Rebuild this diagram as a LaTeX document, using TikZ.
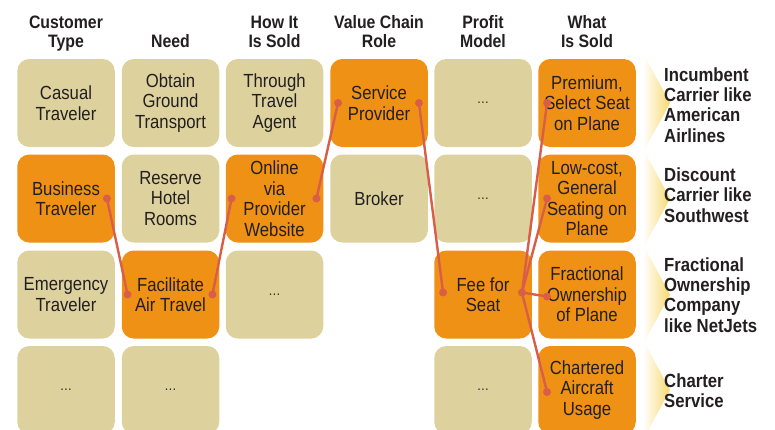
\documentclass[tikz,border=0pt]{standalone}
\usepackage{fontspec}
\setmainfont{Liberation Sans}[FakeStretch=0.88]
\definecolor{tanfill}{RGB}{221,210,158}
\definecolor{hotfill}{RGB}{239,145,20}
\definecolor{ink}{RGB}{35,31,32}
\definecolor{linkred}{RGB}{216,94,74}
\definecolor{chevyellow}{RGB}{247,217,110}
\newcommand\tilefont{\fontsize{19}{20.5}\selectfont}
\newcommand\headfont{\fontsize{18}{19.5}\selectfont\bfseries}
\newcommand\sidefont{\fontsize{19}{20.3}\selectfont\bfseries}
\newcommand\moredots{{\fontsize{14}{14}\selectfont\ldots}}
\begin{document}
\begin{tikzpicture}[x=1pt,y=-1pt,
    tile/.style={rounded corners=12pt, minimum width=97.5pt, minimum height=88pt,
      inner sep=0pt, align=center, font=\tilefont, text=ink},
    tan/.style={tile, fill=tanfill},
    hot/.style={tile, fill=hotfill},
    head/.style={font=\headfont, text=ink, align=center, anchor=south,
      inner sep=0pt, execute at end node=\strut},
    side/.style={font=\sidefont, text=ink, align=left, anchor=west, inner sep=0pt},
    link/.style={draw=linkred, line width=2.4pt},
    chevron/.style={left color=white, right color=chevyellow}]
    \useasboundingbox (0,0) rectangle (775,429);

    % chevrons behind the row labels
    \foreach \y in {103,198.5,294.5,390}
        \shade[chevron] (643,\y-50) -- (670,\y) -- (643,\y+50) -- cycle;

    % column heads
    \node[head] (h-cust) at (66,54) {Customer\\Type};
    \node[head] (h-need) at (170.5,54) {Need};
    \node[head] (h-how) at (274.5,54) {How It\\Is Sold};
    \node[head] (h-role) at (379,54) {Value Chain\\Role};
    \node[head] (h-prof) at (483,54) {Profit\\Model};
    \node[head] (h-what) at (587,54) {What\\Is Sold};

    % customer type
    \node[tan] (casual) at (66,103) {Casual\\Traveler};
    \node[hot] (business) at (66,198.5) {Business\\Traveler};
    \node[tan] (emergency) at (66,294.5) {Emergency\\Traveler};
    \node[tan] (cust-more) at (66,390) {\moredots};

    % need
    \node[tan] (ground) at (170.5,103) {Obtain\\Ground\\Transport};
    \node[tan] (hotel) at (170.5,198.5) {Reserve\\Hotel\\Rooms};
    \node[hot] (airtravel) at (170.5,294.5) {Facilitate\\Air Travel};
    \node[tan] (need-more) at (170.5,390) {\moredots};

    % how it is sold
    \node[tan] (agent) at (274.5,103) {Through\\Travel\\Agent};
    \node[hot] (online) at (274.5,198.5) {Online\\via\\Provider\\Website};
    \node[tan] (how-more) at (274.5,294.5) {\moredots};

    % value chain role
    \node[hot] (service) at (379,103) {Service\\Provider};
    \node[tan] (broker) at (379,198.5) {Broker};

    % profit model
    \node[tan] (prof-more1) at (483,103) {\moredots};
    \node[tan] (prof-more2) at (483,198.5) {\moredots};
    \node[hot] (fee) at (483,294.5) {Fee for\\Seat};
    \node[tan] (prof-more3) at (483,390) {\moredots};

    % what is sold
    \node[hot] (premium) at (587,103) {Premium,\\Select Seat\\on Plane};
    \node[hot] (lowcost) at (587,198.5) {Low-cost,\\General\\Seating on\\Plane};
    \node[hot] (fractional) at (587,294.5) {Fractional\\Ownership\\of Plane};
    \node[hot] (chartered) at (587,390) {Chartered\\Aircraft\\Usage};

    % row labels
    \node[side] (incumbent) at (664,105) {Incumbent\\Carrier like\\American\\Airlines};
    \node[side] (discount) at (664,195) {Discount\\Carrier like\\Southwest};
    \node[side] (netjets) at (664,295) {Fractional\\Ownership\\Company\\like NetJets};
    \node[side] (charter) at (664,391) {Charter\\Service};

    % link ends
    \coordinate (business-r) at ([xshift=-8pt]business.east);
    \coordinate (airtravel-l) at ([xshift=6pt]airtravel.west);
    \coordinate (airtravel-r) at ([xshift=-7pt]airtravel.east);
    \coordinate (online-l) at ([xshift=6pt]online.west);
    \coordinate (online-r) at ([xshift=-7pt]online.east);
    \coordinate (service-l) at ([xshift=8pt]service.west);
    \coordinate (service-r) at ([xshift=-9pt]service.east);
    \coordinate (fee-l) at ([xshift=9pt,yshift=2pt]fee.west);
    \coordinate (fee-r) at ([xshift=-10pt,yshift=2pt]fee.east);
    \coordinate (premium-l) at ([xshift=9pt]premium.west);
    \coordinate (lowcost-l) at ([xshift=9pt]lowcost.west);
    \coordinate (fractional-l) at ([xshift=9pt,yshift=-2pt]fractional.west);
    \coordinate (chartered-l) at ([xshift=9pt,yshift=-2pt]chartered.west);

    % the path through the model
    \draw[link] (business-r) -- (airtravel-l);
    \draw[link] (airtravel-r) -- (online-l);
    \draw[link] (online-r) -- (service-l);
    \draw[link] (service-r) -- (fee-l);
    \draw[link] (fee-r) -- (premium-l);
    \draw[link] (fee-r) -- (lowcost-l);
    \draw[link] (fee-r) -- (fractional-l);
    \draw[link] (fee-r) -- (chartered-l);

    \foreach \p in {business-r,airtravel-l,airtravel-r,online-l,online-r,service-l,
        service-r,fee-l,fee-r,premium-l,lowcost-l,fractional-l,chartered-l}
        \fill[linkred] (\p) circle (4pt);

\end{tikzpicture}
\end{document}
